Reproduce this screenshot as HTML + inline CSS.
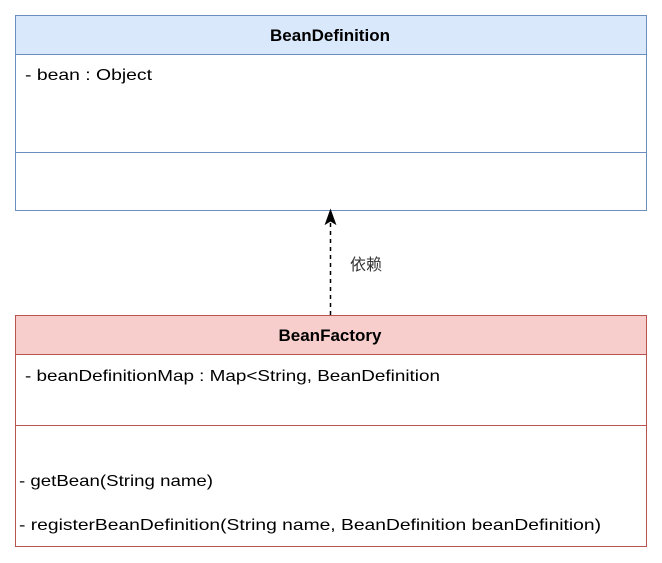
<!DOCTYPE html>
<html><head><meta charset="utf-8"><style>
html,body{margin:0;padding:0;background:#fff;width:662px;height:563px;overflow:hidden}
svg{display:block}
text{font-family:"Liberation Sans","Noto Sans CJK SC",sans-serif;font-size:16px;fill:#000}
.b{font-weight:bold;font-size:17px}
</style></head><body>
<svg width="662" height="563" viewBox="0 0 662 563" xmlns="http://www.w3.org/2000/svg">
<rect x="15.5" y="15.5" width="631" height="195" fill="#fff" stroke="#6c8ebf"/>
<rect x="15.5" y="15.5" width="631" height="39" fill="#dae8fc" stroke="#6c8ebf"/>
<line x1="15.5" y1="152.5" x2="646.5" y2="152.5" stroke="#6c8ebf"/>
<text class="b" x="330" y="41" text-anchor="middle">BeanDefinition</text>
<text x="25" y="80" textLength="127" lengthAdjust="spacingAndGlyphs">- bean : Object</text>

<rect x="15.5" y="315.5" width="631" height="231" fill="#fff" stroke="#b85450"/>
<rect x="15.5" y="315.5" width="631" height="39" fill="#f8cecc" stroke="#b85450"/>
<line x1="15.5" y1="425.5" x2="646.5" y2="425.5" stroke="#b85450"/>
<text class="b" x="330" y="341" text-anchor="middle">BeanFactory</text>
<text x="25" y="381" textLength="415" lengthAdjust="spacingAndGlyphs">- beanDefinitionMap : Map&lt;String, BeanDefinition</text>
<text x="19" y="486" textLength="194" lengthAdjust="spacingAndGlyphs">- getBean(String name)</text>
<text x="19" y="530" textLength="582" lengthAdjust="spacingAndGlyphs">- registerBeanDefinition(String name, BeanDefinition beanDefinition)</text>

<line x1="330.5" y1="315" x2="330.5" y2="222" stroke="#000" stroke-width="1.5" stroke-dasharray="4,4"/>
<path d="M330.5 210 L335.5 224 L330.5 221 L325.5 224 Z" fill="#000" stroke="#000"/>
<text x="350" y="270" style="fill:#333">依赖</text>
</svg>
</body></html>
